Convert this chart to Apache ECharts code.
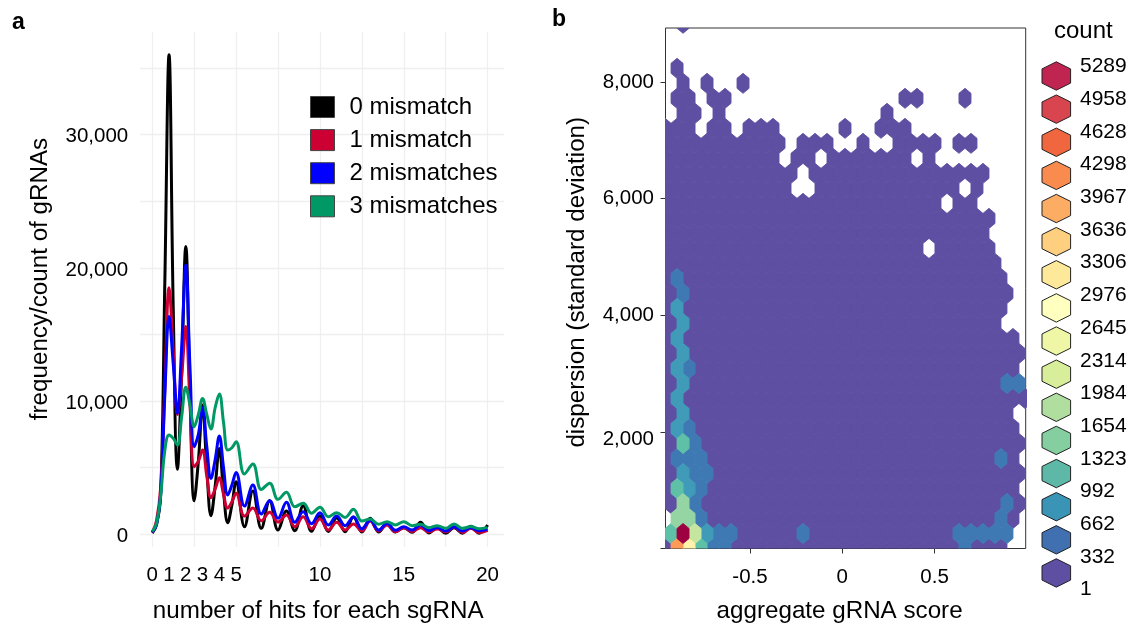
<!DOCTYPE html>
<html>
<head>
<meta charset="utf-8">
<style>
  html, body { margin: 0; padding: 0; background: #fff; }
  #chart { width: 1139px; height: 623px; }
</style>
</head>
<body>
<div id="chart"></div>
<script src="https://cdn.jsdelivr.net/npm/echarts@6/dist/echarts.min.js"></script>
<script>
// panel a: hits per sgRNA
var hits = [0, 0.25, 0.5, 0.75, 1, 1.25, 1.5, 1.75, 2, 2.25, 2.5, 2.75, 3, 3.25, 3.5, 3.75, 4, 4.25, 4.5, 4.75, 5,
  5.5, 6, 6.5, 7, 7.5, 8, 8.5, 9, 9.5, 10, 10.5, 11, 11.5, 12, 12.5, 13, 13.5, 14, 14.5, 15, 15.5, 16, 16.5, 17, 17.5, 18, 18.5, 19, 19.5, 20];
var mismatch0 = [100, 700, 2900, 19000, 36000, 17000, 4880, 12000, 21600, 10500, 2520, 5500, 9700, 5000, 1400, 3600, 6450, 3200, 870, 2200, 3950,
  570, 3250, 450, 2520, 320, 1750, 270, 2150, 225, 1400, 220, 1250, 200, 1300, 180, 1200, 170, 800, 170, 500, 150, 900, 110, 500, 90, 500, 90, 600, 90, 700];
var mismatch1 = [150, 1000, 3500, 11000, 18500, 13800, 9000, 11800, 15600, 9800, 5080, 5500, 6330, 4400, 2750, 3400, 4250, 3000, 1970, 2450, 3080,
  1370, 1970, 1020, 1650, 920, 1450, 570, 1320, 420, 1150, 320, 900, 320, 770, 250, 1000, 250, 700, 200, 500, 200, 500, 170, 400, 170, 550, 130, 450, 130, 300];
var mismatch2 = [150, 700, 3000, 10500, 16340, 12800, 9080, 14000, 20200, 12500, 6580, 7500, 9500, 6600, 4200, 5600, 7380, 5000, 2950, 3700, 4650,
  2120, 3700, 1520, 2520, 1200, 2400, 900, 1700, 800, 1620, 700, 1370, 650, 1300, 420, 1050, 320, 830, 300, 570, 320, 700, 270, 520, 250, 570, 250, 500, 270, 400];
var mismatch3 = [200, 800, 2900, 6300, 7450, 7200, 6700, 8800, 11030, 9700, 8080, 9000, 10200, 9000, 7900, 9500, 10530, 8400, 6330, 6500, 6950,
  4530, 5280, 3370, 3830, 2630, 3150, 2070, 2330, 1580, 2030, 1320, 1620, 1270, 1880, 1000, 1150, 750, 950, 700, 950, 650, 750, 500, 650, 450, 780, 450, 580, 420, 520];
var seriesNames = ['0 mismatch', '1 mismatch', '2 mismatches', '3 mismatches'];
var seriesColors = ['#000000', '#cc0033', '#0000ff', '#009966'];
var hitsLabels = [0, 1, 2, 3, 4, 5, 10, 15, 20];
var hitsGrid = [0, 2.5, 5, 7.5, 10, 12.5, 15, 17.5, 20];
var freqLabels = [0, 10000, 20000, 30000];
var freqGrid = [0, 5000, 10000, 15000, 20000, 25000, 30000, 35000];

// panel b: occupied hex columns per row, row 0 is the bottom one
var occupiedRows = [
  [[0, 28]], [[0, 28]], [[1, 29]], [[0, 29]], [[0, 29]], [[0, 29]], [[0, 29]], [[0, 29]], [[0, 29]], [[0, 28]],
  [[0, 30]], [[0, 29]], [[0, 29]], [[0, 29]], [[0, 29]], [[0, 27]], [[0, 28]], [[0, 28]], [[0, 28]], [[0, 27]],
  [[0, 21], [23, 27]], [[0, 26]], [[0, 27]], [[0, 22], [24, 25]], [[0, 10], [13, 24], [26, 26]], [[0, 10], [12, 26]],
  [[0, 9], [11, 12], [14, 20], [22, 22]], [[0, 9], [11, 13], [16, 16], [19, 22], [24, 25]],
  [[0, 2], [4, 5], [7, 9], [15, 15], [18, 20]], [[1, 2], [4, 4], [18, 18]], [[1, 2], [4, 5], [20, 21], [25, 25]],
  [[1, 1], [3, 3], [6, 6]], [[1, 1]], [], [], [[1, 1]]
];
// cells above the lowest count: row, column, count
var denseRow = [0, 0, 0, 0, 0, 0, 1, 1, 1, 1, 1, 1, 1, 1, 1, 1, 1, 1, 2, 2, 2, 2, 3, 3, 3, 4, 4, 4, 5, 5, 5, 6, 6, 6, 6, 7, 7, 8, 8, 9, 10, 11, 11, 11, 12, 12, 13, 14, 15, 16, 17, 18];
var denseCol = [1, 2, 3, 4, 5, 25, 0, 1, 2, 3, 4, 5, 11, 24, 25, 26, 27, 28, 1, 2, 3, 28, 1, 2, 28, 1, 2, 3, 1, 2, 3, 1, 2, 3, 28, 1, 2, 1, 2, 1, 1, 1, 28, 29, 1, 2, 1, 1, 1, 1, 1, 1];
var denseCount = [3800, 2800, 1200, 400, 400, 400, 1200, 5289, 1800, 800, 400, 400, 400, 400, 400, 400, 400, 400, 1400, 1400, 400, 400, 1400, 400, 400, 1200, 800, 400, 800, 400, 400, 400, 400, 400, 400, 1200, 400, 800, 400, 800, 800, 800, 400, 400, 800, 400, 800, 800, 800, 800, 400, 400];
var lowestCount = 100;

var countLabels = [5289, 4958, 4628, 4298, 3967, 3636, 3306, 2976, 2645, 2314, 1984, 1654, 1323, 992, 662, 332, 1];
var cellColors = ['#9e0142', '#c0264a', '#d8434e', '#ee6445', '#fd9a58', '#fdb366', '#fed583', '#fff2aa', '#f2f9aa', '#e0f3a0', '#c5e69f', '#95d5a4', '#5fc0a8', '#3f9bb8', '#3f79b4', '#5e4fa2'];
var legendColors = ['#c02552', '#d8454f', '#f0673f', '#f98b4e', '#fdac64', '#fdcf7e', '#fee99a', '#ffffbf', '#eff7a7', '#d9ee9a', '#b0de9f', '#85ce9f', '#5eb8a7', '#3a94b5', '#4070b0', '#5e4fa2'];

var scoreStart = -0.9605, scoreStep = 0.065, sdStep = 257.3;

var fontFamily = '"Liberation Sans", Arial, sans-serif';

function colorForCount(count) {
  for (var i = 0; i < cellColors.length; i++) {
    if (count >= countLabels[i + 1]) return cellColors[i];
  }
  return cellColors[cellColors.length - 1];
}

var denseLookup = {};
denseRow.forEach(function(r, i) {
  denseLookup[r + '_' + denseCol[i]] = denseCount[i];
});

var hexData = [];
occupiedRows.forEach(function(spans, row) {
  spans.forEach(function(span) {
    for (var col = span[0]; col <= span[1]; col++) {
      var count = denseLookup[row + '_' + col] || lowestCount;
      var score = scoreStart + col * scoreStep + (row % 2 ? scoreStep / 2 : 0);
      hexData.push([score, row * sdStep, count]);
    }
  });
});
// low counts first so the denser cells keep their full outline
hexData.sort(function(a, b) { return a[2] - b[2]; });

function renderHex(params, api) {
  var x = api.value(0), y = api.value(1);
  var hw = scoreStep / 2, r = sdStep * 2 / 3;
  var points = [[x, y + r], [x + hw, y + r / 2], [x + hw, y - r / 2], [x, y - r], [x - hw, y - r / 2], [x - hw, y + r / 2]]
    .map(function(p) { return api.coord(p); });
  var color = colorForCount(api.value(2));
  return {
    type: 'polygon',
    shape: { points: points },
    style: { fill: color, stroke: color, lineWidth: 0.9 }
  };
}

// count legend, hexagons and labels are separate columns
var legendGraphics = [{
  type: 'text', left: 1054, top: 19,
  style: { text: 'count', fontSize: 24, fontFamily: fontFamily, fill: '#000' }
}];
legendColors.forEach(function(color, i) {
  var cy = 76 + i * 33.13, cx = 1056.3, rx = 14.3, ry = 14.2;
  legendGraphics.push({
    type: 'polygon',
    shape: { points: [[cx, cy - ry], [cx + rx, cy - ry / 2], [cx + rx, cy + ry / 2], [cx, cy + ry], [cx - rx, cy + ry / 2], [cx - rx, cy - ry / 2]] },
    style: { fill: color, stroke: '#222', lineWidth: 1 }
  });
});
countLabels.forEach(function(label, i) {
  legendGraphics.push({
    type: 'text', left: 1080, top: 66 + i * 32.7 - 10,
    style: { text: String(label), fontSize: 21, fontFamily: fontFamily, fill: '#000' }
  });
});
legendGraphics.push(
  { type: 'text', left: 12, top: 11, style: { text: 'a', fontSize: 23, fontWeight: 'bold', fontFamily: fontFamily, fill: '#000' } },
  { type: 'text', left: 552, top: 8, style: { text: 'b', fontSize: 23, fontWeight: 'bold', fontFamily: fontFamily, fill: '#000' } }
);

var gridLine = { show: true, lineStyle: { color: '#efefef', width: 1.3 } };
var lineSeries = [mismatch0, mismatch1, mismatch2, mismatch3].map(function(values, s) {
  return {
    name: seriesNames[s],
    type: 'line',
    xAxisIndex: 0,
    yAxisIndex: 0,
    smooth: 0.4,
    showSymbol: false,
    clip: false,
    lineStyle: { color: seriesColors[s], width: 3 },
    itemStyle: { color: seriesColors[s] },
    data: values.map(function(v, i) { return [hits[i], v]; })
  };
});

var myChart = echarts.init(document.getElementById('chart'), null, { renderer: 'canvas' });
var option = {
  animation: false,
  backgroundColor: '#fff',
  textStyle: { fontFamily: fontFamily, color: '#000' },
  grid: [
    { left: 140.2, top: 32, width: 364, height: 515, outerBoundsMode: 'none' },
    { left: 665.5, top: 28, width: 360.2, height: 520.5, outerBoundsMode: 'none', show: true, borderColor: '#333', borderWidth: 1, backgroundColor: 'transparent' }
  ],
  legend: {
    orient: 'vertical',
    left: 310,
    top: 95,
    padding: 0,
    icon: 'rect',
    itemWidth: 24,
    itemHeight: 21,
    itemGap: 9.1,
    data: seriesNames,
    selectedMode: false,
    itemStyle: { borderColor: '#444', borderWidth: 1 },
    textStyle: { fontSize: 24, color: '#000', fontFamily: fontFamily, padding: [0, 0, 0, 10] }
  },
  xAxis: [{
    gridIndex: 0,
    type: 'value',
    min: -0.72,
    max: 20.99,
    name: 'number of hits for each sgRNA',
    nameLocation: 'middle',
    nameGap: 52,
    nameTextStyle: { fontSize: 24.2, color: '#000', padding: [0, 8, 0, 0] },
    axisLine: { show: false, onZero: false },
    axisTick: { show: false, customValues: hitsGrid },
    splitLine: gridLine,
    axisLabel: { customValues: hitsLabels, fontSize: 20.5, color: '#000', margin: 18, hideOverlap: false }
  }, {
    gridIndex: 1,
    type: 'value',
    min: -0.958,
    max: 0.9935,
    name: 'aggregate gRNA score',
    nameLocation: 'middle',
    nameGap: 51,
    nameTextStyle: { fontSize: 24.2, color: '#000', padding: [0, 12, 0, 0] },
    axisLine: { show: false, onZero: false },
    axisTick: { show: true, length: 5, customValues: [-0.5, 0, 0.5], lineStyle: { color: '#333', width: 1 } },
    splitLine: { show: false },
    axisLabel: { customValues: [-0.5, 0, 0.5], fontSize: 20.5, color: '#000', margin: 18 }
  }],
  yAxis: [{
    gridIndex: 0,
    type: 'value',
    min: -950,
    max: 37700,
    name: 'frequency/count of gRNAs',
    nameLocation: 'middle',
    nameGap: 88,
    nameTextStyle: { fontSize: 24.2, color: '#000', padding: [0, 0, 0, 21] },
    axisLine: { show: false, onZero: false },
    axisTick: { show: false, customValues: freqGrid },
    splitLine: gridLine,
    axisLabel: {
      customValues: freqLabels, fontSize: 20.5, color: '#000', margin: 12,
      formatter: function(v) { return '{std|' + v.toLocaleString('en-US') + '}'; },
      rich: { std: { fontSize: 20.5, color: '#000', padding: [4, 0, 0, 0] } }
    }
  }, {
    gridIndex: 1,
    type: 'value',
    min: 0,
    max: 8925,
    name: 'dispersion (standard deviation)',
    nameLocation: 'middle',
    nameGap: 76,
    nameTextStyle: { fontSize: 24.2, color: '#000', padding: [0, 0, 0, 12] },
    axisLine: { show: false, onZero: false },
    axisTick: { show: true, length: 5, customValues: [0, 2000, 4000, 6000, 8000], lineStyle: { color: '#333', width: 1 } },
    splitLine: { show: false },
    axisLabel: {
      customValues: [2000, 4000, 6000, 8000], fontSize: 20.5, color: '#000', margin: 11.5,
      // the 2,000 label sits a little below its tick in the original
      formatter: function(v) {
        var text = v.toLocaleString('en-US');
        return v === 2000 ? '{low|' + text + '}' : text;
      },
      rich: { low: { fontSize: 20.5, color: '#000', padding: [14, 0, 0, 0] } }
    }
  }],
  graphic: legendGraphics,
  series: lineSeries.concat([{
    type: 'custom',
    xAxisIndex: 1,
    yAxisIndex: 1,
    clip: true,
    renderItem: renderHex,
    data: hexData
  }])
};
myChart.setOption(option);
</script>
</body>
</html>
